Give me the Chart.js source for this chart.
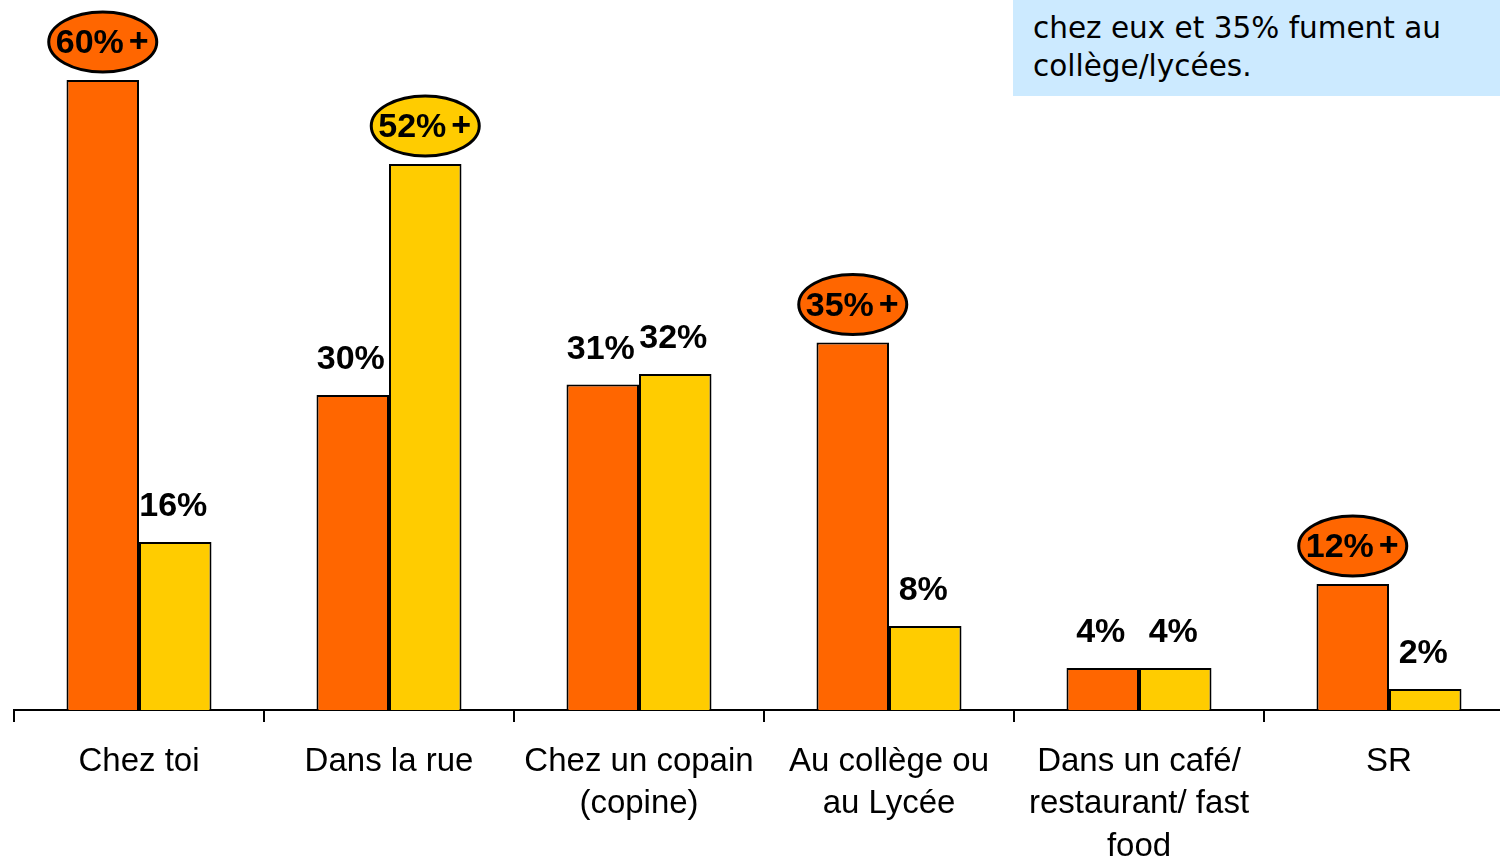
<!DOCTYPE html>
<html>
<head>
<meta charset="utf-8">
<script src="https://cdn.jsdelivr.net/npm/chart.js@4.4.0/dist/chart.umd.min.js"></script>
<style>
  body { margin: 0; overflow: hidden; background: #fff; }
  #wrap { position: relative; width: 1500px; height: 861px; overflow: hidden; }
  #note {
    position: absolute; left: 1013px; top: 0; width: 487px; height: 96px;
    background: #cceaff; box-sizing: border-box; padding: 9px 0 0 20px;
    font-family: "DejaVu Sans", sans-serif; font-size: 29.5px; line-height: 38px; color: #000;
  }
</style>
</head>
<body>
<div id="wrap">
  <canvas id="myChart" width="1520" height="861"></canvas>
  <div id="note">chez eux et 35% fument au<br>collège/lycées.</div>
</div>
<script>
// categories + two series
const categories = [
  'Chez toi',
  'Dans la rue',
  ['Chez un copain', '(copine)'],
  ['Au collège ou', 'au Lycée'],
  ['Dans un café/', 'restaurant/ fast', 'food'],
  'SR'
];
const seriesA = [60, 30, 31, 35, 4, 12];
const seriesB = [16, 52, 32, 8, 4, 2];
// which labels get the circled "+"
const plusA = [true, false, false, true, false, true];
const plusB = [false, true, false, false, false, false];

const ORANGE = '#ff6600';
const YELLOW = '#ffcc00';

// labels above bars, some inside an ellipse
const barLabels = {
  id: 'barLabels',
  afterDatasetsDraw(chart) {
    const ctx = chart.ctx;
    const plus = [plusA, plusB];
    chart.data.datasets.forEach((ds, di) => {
      const meta = chart.getDatasetMeta(di);
      meta.data.forEach((bar, i) => {
        const txt = ds.data[i] + '%';
        const cx = bar.x;
        const cy = bar.y - 36;
        ctx.save();
        ctx.font = 'bold 34px "Liberation Sans", Arial, sans-serif';
        ctx.fillStyle = '#000';
        ctx.textBaseline = 'middle';
        if (plus[di][i]) {
          ctx.beginPath();
          ctx.ellipse(cx, cy - 2, 54, 30, 0, 0, Math.PI * 2);
          ctx.fillStyle = ds.backgroundColor;
          ctx.fill();
          ctx.lineWidth = 3;
          ctx.strokeStyle = '#000';
          ctx.stroke();
          ctx.fillStyle = '#000';
          ctx.textAlign = 'left';
          let w = ctx.measureText(txt).width;
          let x0 = cx - (w + 6 + 20) / 2;
          ctx.fillText(txt, x0, cy);
          ctx.fillText('+', x0 + w + 5, cy - 1);
        } else {
          ctx.textAlign = 'center';
          ctx.fillText(txt, cx - 2, cy + 1);
        }
        ctx.restore();
      });
    });
  }
};

const config = {
  type: 'bar',
  data: {
    labels: categories,
    datasets: [
      { label: 'Série 1', data: seriesA, backgroundColor: ORANGE, borderColor: '#000', borderWidth: 2 },
      { label: 'Série 2', data: seriesB, backgroundColor: YELLOW, borderColor: '#000', borderWidth: 2 }
    ]
  },
  options: {
    responsive: false,
    animation: false,
    devicePixelRatio: 1,
    layout: { padding: { left: 14, right: 6, top: 0, bottom: 0 } },
    datasets: { bar: { categoryPercentage: 0.58, barPercentage: 1.0 } },
    plugins: { legend: { display: false }, tooltip: { enabled: false } },
    scales: {
      x: {
        grid: { offset: true, drawOnChartArea: false, color: '#000', lineWidth: 2, tickLength: 12 },
        border: { display: true, color: '#000', width: 2 },
        ticks: {
          color: '#000', padding: 18, maxRotation: 0, autoSkip: false,
          font: { family: '"Liberation Sans", Arial, sans-serif', size: 33, lineHeight: 1.3 }
        },
        afterFit(scale) { scale.height = 151; }
      },
      y: {
        display: false,
        min: 0,
        max: 710 / 10.5
      }
    }
  },
  plugins: [barLabels]
};

const myChart = new Chart(document.getElementById('myChart'), config);
</script>
</body>
</html>
